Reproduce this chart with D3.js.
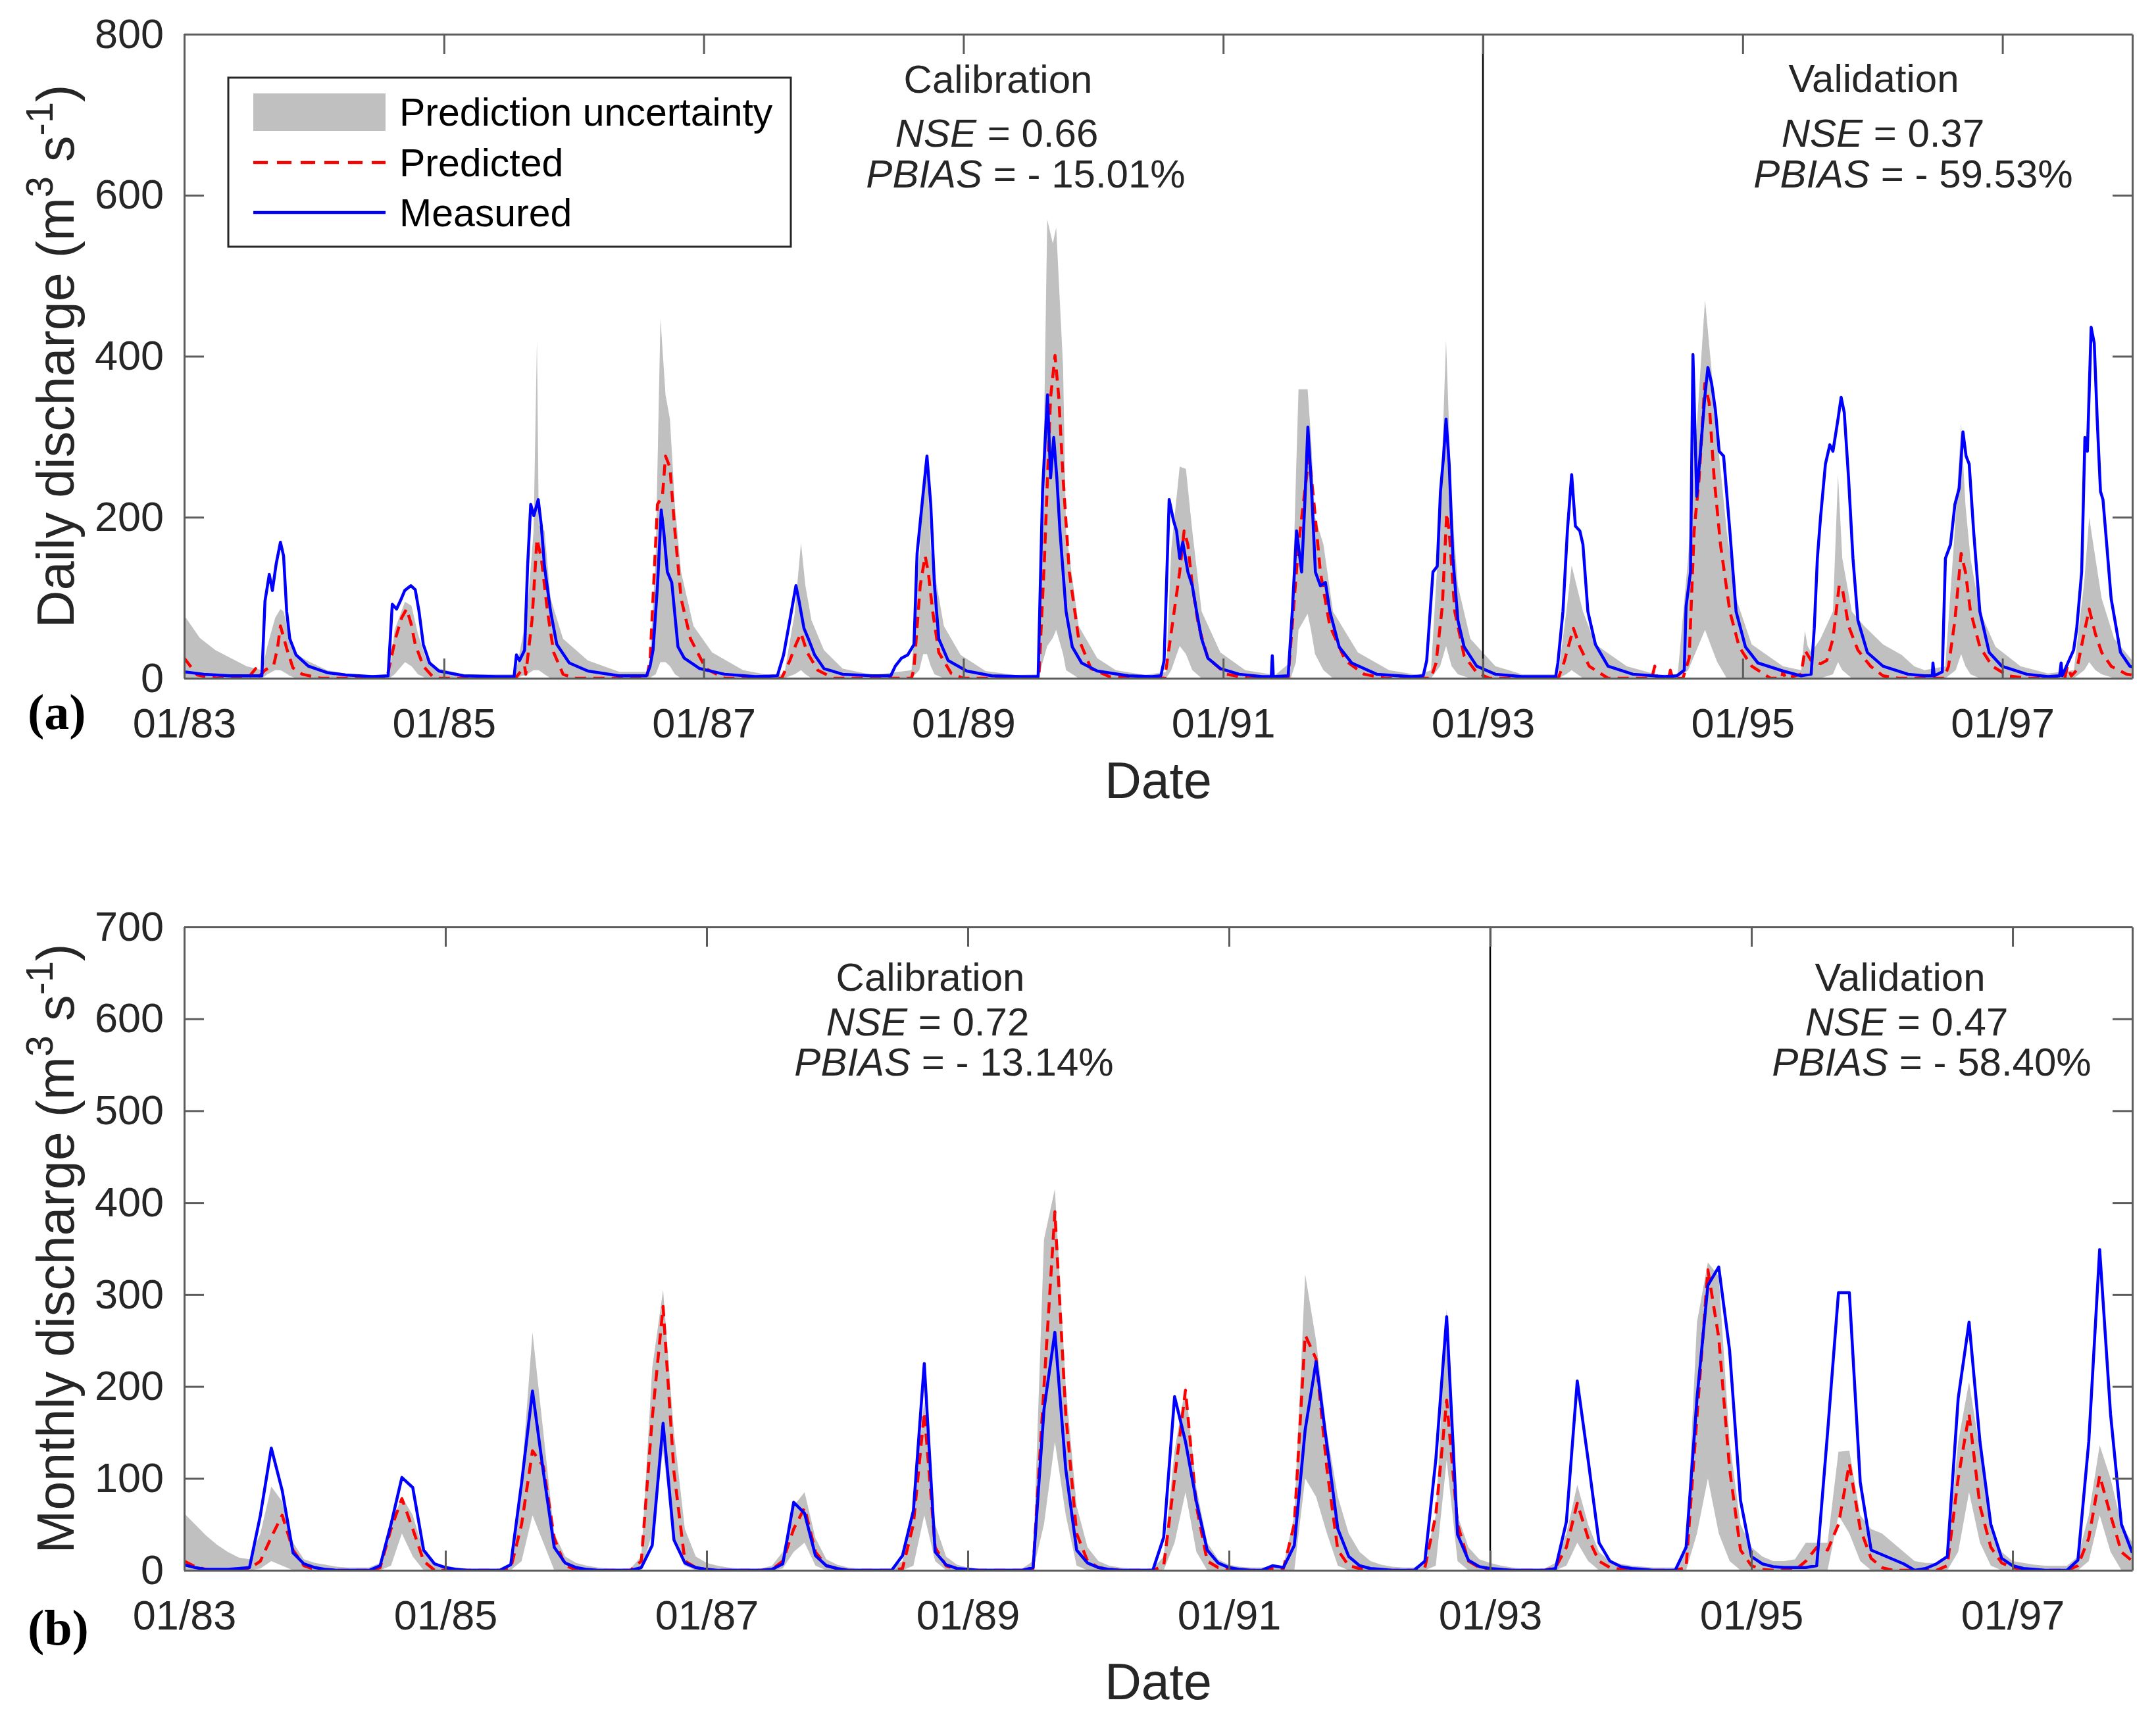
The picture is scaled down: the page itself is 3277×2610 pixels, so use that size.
<!DOCTYPE html>
<html>
<head>
<meta charset="utf-8">
<script src="https://cdn.jsdelivr.net/npm/d3@7"></script>
<style>
  body { margin: 0; background: #fff; }
  svg { display: block; font-family: "Liberation Sans", Arial, sans-serif; }
</style>
</head>
<body>
<div id="chart"></div>
<script>
// ---- Daily panel (a): [decimal year, value] ----
const dailyMeasured = [
  [1983.000, 8], [1983.15, 5], [1983.35, 3], [1983.55, 3], [1983.598, 3], [1983.622, 96], [1983.655, 129], [1983.679, 109],
  [1983.708, 142], [1983.741, 169], [1983.765, 152], [1983.789, 83], [1983.813, 49], [1983.861, 29], [1983.956, 15], [1984.100, 7],
  [1984.243, 4], [1984.45, 2],
  [1984.570, 3], [1984.602, 92], [1984.635, 86], [1984.664, 96], [1984.698, 109], [1984.745, 115], [1984.779, 110], [1984.808, 83],
  [1984.841, 42], [1984.889, 19], [1984.961, 9], [1985.152, 3], [1985.40, 2],
  [1985.540, 2], [1985.558, 29], [1985.582, 22], [1985.621, 35], [1985.644, 139], [1985.668, 216], [1985.692, 202], [1985.726, 222],
  [1985.750, 189], [1985.774, 139], [1985.821, 83], [1985.869, 42], [1985.965, 19], [1986.108, 9], [1986.347, 3],
  [1986.560, 3], [1986.587, 15], [1986.610, 35], [1986.644, 115], [1986.673, 209], [1986.692, 183], [1986.720, 132], [1986.754, 119],
  [1986.802, 39], [1986.850, 25], [1986.969, 12], [1987.160, 5], [1987.40, 2],
  [1987.567, 3], [1987.615, 29], [1987.663, 72], [1987.710, 115], [1987.734, 96], [1987.772, 62], [1987.806, 49], [1987.854, 29],
  [1987.926, 12], [1988.069, 5], [1988.30, 3],
  [1988.440, 3], [1988.475, 15], [1988.523, 25], [1988.571, 29], [1988.619, 42], [1988.643, 155], [1988.681, 216], [1988.719, 276],
  [1988.748, 216], [1988.777, 115], [1988.810, 49], [1988.882, 22], [1989.025, 9], [1989.217, 3], [1989.45, 2],
  [1989.575, 2], [1989.609, 232], [1989.647, 352], [1989.671, 249], [1989.695, 299], [1989.719, 249], [1989.743, 183], [1989.790, 83],
  [1989.838, 39], [1989.910, 19], [1990.030, 9], [1990.269, 3], [1990.45, 2],
  [1990.520, 3], [1990.545, 22], [1990.584, 222], [1990.617, 196], [1990.641, 183], [1990.665, 149], [1990.689, 169], [1990.728, 132],
  [1990.762, 115], [1990.795, 83], [1990.834, 49], [1990.882, 25], [1990.978, 12], [1991.123, 5], [1991.30, 2],
  [1991.370, 2], [1991.378, 28], [1991.386, 2], [1991.50, 3], [1991.532, 83], [1991.565, 183], [1991.604, 132], [1991.628, 216],
  [1991.652, 312], [1991.676, 249], [1991.710, 132], [1991.748, 115], [1991.787, 119], [1991.821, 83], [1991.893, 39], [1991.989, 19],
  [1992.182, 5], [1992.45, 2],
  [1992.540, 3], [1992.567, 22], [1992.615, 132], [1992.648, 139], [1992.673, 232], [1992.697, 276], [1992.716, 322], [1992.740, 266],
  [1992.769, 149], [1992.807, 72], [1992.855, 39], [1992.952, 15], [1993.096, 5], [1993.30, 2],
  [1993.560, 2], [1993.577, 19], [1993.616, 83], [1993.650, 183], [1993.683, 253], [1993.712, 189], [1993.746, 183], [1993.770, 166],
  [1993.808, 83], [1993.866, 42], [1993.963, 15], [1994.155, 5], [1994.40, 2],
  [1994.492, 3], [1994.55, 10], [1994.564, 89], [1994.598, 132], [1994.617, 402], [1994.646, 226], [1994.675, 282], [1994.708, 349],
  [1994.732, 386], [1994.761, 366], [1994.790, 333], [1994.819, 282], [1994.853, 276], [1994.901, 183], [1994.949, 83], [1995.021, 39],
  [1995.117, 19], [1995.310, 9], [1995.45, 3],
  [1995.527, 5], [1995.551, 62], [1995.575, 149], [1995.599, 199], [1995.637, 266], [1995.671, 290], [1995.695, 282], [1995.734, 322],
  [1995.758, 349], [1995.782, 330], [1995.815, 249], [1995.849, 149], [1995.887, 72], [1995.960, 32], [1996.080, 15], [1996.273, 5],
  [1996.40, 3],
  [1996.460, 3], [1996.465, 19], [1996.475, 3], [1996.537, 8], [1996.561, 149], [1996.600, 166], [1996.634, 216], [1996.667, 236],
  [1996.696, 306], [1996.720, 276], [1996.744, 266], [1996.778, 183], [1996.826, 83], [1996.898, 32], [1996.995, 15], [1997.187, 5],
  [1997.35, 2],
  [1997.440, 3], [1997.452, 19], [1997.460, 3], [1997.548, 35], [1997.572, 62], [1997.610, 132], [1997.635, 299], [1997.654, 282],
  [1997.683, 436], [1997.707, 416], [1997.731, 316], [1997.755, 232], [1997.774, 222], [1997.803, 166], [1997.837, 99], [1997.909, 32],
  [1997.981, 15], [1998.0, 14]
];

const dailyPredicted = [
  [1983.000, 25], [1983.10, 4], [1983.25, 0], [1983.50, 2], [1983.55, 12], [1983.58, 3], [1983.622, 10], [1983.69, 17],
  [1983.718, 37], [1983.741, 65], [1983.789, 37], [1983.837, 13], [1983.909, 5], [1984.05, 0],
  [1984.56, 0], [1984.626, 49], [1984.674, 75], [1984.712, 86], [1984.745, 69], [1984.779, 42], [1984.841, 15], [1984.913, 2], [1984.96, 0],
  [1985.55, 0], [1985.621, 15], [1985.63, 5], [1985.678, 72], [1985.716, 173], [1985.750, 149], [1985.797, 83], [1985.845, 32],
  [1985.917, 5], [1986.0, 0],
  [1986.56, 0], [1986.587, 22], [1986.644, 216], [1986.682, 226], [1986.706, 276], [1986.740, 262], [1986.778, 183], [1986.826, 99],
  [1986.898, 49], [1987.017, 12], [1987.160, 0],
  [1987.60, 0], [1987.663, 22], [1987.710, 42], [1987.749, 56], [1987.797, 32], [1987.878, 10], [1988.0, 0],
  [1988.60, 0], [1988.619, 12], [1988.667, 115], [1988.705, 152], [1988.729, 132], [1988.763, 83], [1988.810, 32], [1988.906, 6], [1989.0, 0],
  [1989.46, 0], [1989.480, 6], [1989.50, 0], [1989.58, 0], [1989.623, 146], [1989.671, 349], [1989.705, 401], [1989.734, 349],
  [1989.767, 249], [1989.815, 132], [1989.887, 49], [1989.982, 12], [1990.125, 2], [1990.3, 0],
  [1990.55, 0], [1990.593, 49], [1990.665, 132], [1990.699, 183], [1990.728, 166], [1990.762, 115], [1990.810, 65], [1990.882, 25],
  [1991.026, 5], [1991.2, 0],
  [1991.50, 0], [1991.580, 166], [1991.628, 232], [1991.662, 276], [1991.700, 216], [1991.748, 132], [1991.821, 65], [1991.941, 22],
  [1992.085, 5], [1992.25, 0],
  [1992.60, 0], [1992.639, 19], [1992.687, 89], [1992.721, 205], [1992.740, 183], [1992.783, 83], [1992.855, 28], [1992.952, 7], [1993.05, 0],
  [1993.58, 0], [1993.625, 20], [1993.650, 35], [1993.697, 62], [1993.746, 39], [1993.818, 15], [1993.963, 0],
  [1994.30, 0], [1994.323, 15], [1994.34, 0], [1994.43, 0], [1994.443, 10], [1994.46, 0], [1994.54, 0], [1994.588, 25], [1994.626, 183],
  [1994.665, 249], [1994.708, 366], [1994.742, 342], [1994.780, 249], [1994.829, 166], [1994.901, 83], [1994.973, 39], [1995.069, 15],
  [1995.214, 0],
  [1995.30, 0], [1995.310, 9], [1995.33, 0], [1995.45, 5], [1995.479, 35], [1995.527, 22], [1995.599, 18], [1995.647, 22], [1995.695, 49],
  [1995.743, 115], [1995.767, 112], [1995.815, 65], [1995.887, 35], [1995.984, 15], [1996.080, 3], [1996.2, 0],
  [1996.55, 0], [1996.585, 15], [1996.634, 72], [1996.682, 155], [1996.715, 132], [1996.754, 83], [1996.826, 39], [1996.922, 15],
  [1997.043, 3], [1997.2, 0],
  [1997.48, 0], [1997.500, 15], [1997.53, 3], [1997.572, 10], [1997.620, 49], [1997.668, 86], [1997.716, 55], [1997.764, 32],
  [1997.837, 15], [1997.957, 5], [1998.0, 4]
];

// [decimal year, lower bound, upper bound]
const dailyBand = [
  [1983.000, 0, 78], [1983.12, 0, 50], [1983.24, 0, 35], [1983.36, 0, 25], [1983.48, 0, 15], [1983.60, 0, 10], [1983.64, 5, 40],
  [1983.70, 10, 75], [1983.741, 10, 86], [1983.765, 8, 83], [1983.813, 3, 49], [1983.861, 0, 30], [1983.956, 0, 21], [1984.10, 0, 10],
  [1984.3, 0, 4],
  [1984.58, 0, 4], [1984.62, 5, 60], [1984.70, 20, 95], [1984.75, 15, 90], [1984.80, 5, 55], [1984.86, 0, 25], [1984.96, 0, 12], [1985.15, 0, 5],
  [1985.55, 0, 5], [1985.64, 5, 80], [1985.69, 10, 183], [1985.716, 10, 420], [1985.73, 10, 190], [1985.774, 5, 183], [1985.821, 0, 99],
  [1985.917, 0, 49], [1986.108, 0, 22], [1986.35, 0, 8],
  [1986.58, 0, 8], [1986.63, 5, 150], [1986.667, 20, 447], [1986.706, 20, 352], [1986.740, 15, 322], [1986.778, 5, 216], [1986.826, 0, 132],
  [1986.921, 0, 65], [1987.065, 0, 32], [1987.304, 0, 10], [1987.5, 0, 4],
  [1987.62, 0, 5], [1987.70, 5, 80], [1987.749, 10, 168], [1987.783, 5, 115], [1987.830, 0, 72], [1987.926, 0, 35], [1988.069, 0, 12],
  [1988.3, 0, 4],
  [1988.60, 0, 10], [1988.66, 10, 150], [1988.69, 30, 235], [1988.719, 30, 270], [1988.748, 15, 160], [1988.777, 5, 132], [1988.849, 0, 65],
  [1988.978, 0, 29], [1989.170, 0, 9], [1989.4, 0, 4],
  [1989.58, 0, 5], [1989.61, 20, 200], [1989.645, 40, 570], [1989.688, 50, 540], [1989.714, 60, 560], [1989.767, 30, 387], [1989.790, 10, 183],
  [1989.887, 0, 65], [1990.030, 0, 25], [1990.173, 0, 10], [1990.4, 0, 4],
  [1990.56, 0, 8], [1990.60, 10, 160], [1990.665, 40, 263], [1990.713, 30, 260], [1990.762, 10, 183], [1990.834, 0, 83], [1990.978, 0, 32],
  [1991.17, 0, 10], [1991.4, 0, 4],
  [1991.52, 0, 20], [1991.56, 20, 250], [1991.58, 60, 359], [1991.65, 80, 359], [1991.676, 60, 300], [1991.707, 30, 200], [1991.772, 10, 166],
  [1991.845, 0, 83], [1992.037, 0, 32], [1992.278, 0, 10], [1992.5, 0, 4],
  [1992.60, 0, 10], [1992.67, 15, 200], [1992.716, 40, 420], [1992.759, 15, 216], [1992.807, 5, 115], [1992.903, 0, 49], [1993.096, 0, 15],
  [1993.3, 0, 5],
  [1993.58, 0, 5], [1993.64, 5, 80], [1993.683, 10, 140], [1993.770, 0, 83], [1993.866, 0, 42], [1994.107, 0, 15], [1994.35, 0, 4],
  [1994.50, 0, 5], [1994.58, 10, 150], [1994.71, 60, 470], [1994.756, 40, 390], [1994.804, 20, 300], [1994.877, 0, 183], [1994.949, 0, 99],
  [1995.069, 0, 42], [1995.310, 0, 15], [1995.45, 0, 10],
  [1995.479, 0, 59], [1995.50, 0, 40], [1995.527, 0, 32], [1995.599, 0, 49], [1995.695, 5, 83], [1995.734, 20, 253], [1995.767, 10, 149],
  [1995.84, 0, 83], [1995.935, 0, 65], [1996.080, 0, 42], [1996.224, 0, 29], [1996.32, 0, 15], [1996.40, 0, 10],
  [1996.56, 0, 15], [1996.64, 10, 200], [1996.682, 30, 316], [1996.715, 15, 216], [1996.754, 5, 149], [1996.826, 0, 83], [1996.947, 0, 39],
  [1997.139, 0, 15], [1997.35, 0, 6],
  [1997.55, 0, 10], [1997.63, 10, 120], [1997.668, 20, 200], [1997.716, 10, 149], [1997.764, 5, 99], [1997.861, 0, 49], [1998.0, 0, 22]
];

// ---- Monthly panel (b): one value per month, Jan 1983 .. Dec 1997 ----
const monthlyMeasured = [
  6, 3, 1, 1, 1, 2, 3, 60, 133, 87, 19, 7,        // 1983
  3, 1, 0, 0, 0, 0, 5, 50, 101, 90, 22, 7,        // 1984
  3, 1, 0, 0, 0, 0, 6, 95, 195, 107, 25, 8,       // 1985
  3, 1, 0, 0, 0, 0, 3, 27, 160, 33, 8, 3,         // 1986
  1, 0, 0, 0, 0, 0, 1, 7, 74, 62, 16, 5,          // 1987
  2, 0, 0, 0, 0, 0, 16, 65, 225, 20, 6, 2,        // 1988
  1, 0, 0, 0, 0, 0, 3, 175, 259, 110, 22, 8,      // 1989
  3, 1, 0, 0, 0, 0, 36, 189, 140, 75, 22, 8,      // 1990
  3, 1, 0, 0, 5, 3, 27, 153, 227, 136, 45, 15,    // 1991
  5, 2, 1, 0, 0, 0, 10, 120, 276, 39, 11, 4,      // 1992
  2, 1, 0, 0, 0, 0, 2, 53, 206, 120, 30, 10,      // 1993
  4, 2, 1, 0, 0, 0, 25, 187, 310, 330, 239, 76,   // 1994
  15, 7, 4, 3, 3, 3, 5, 150, 302, 302, 96, 22,    // 1995
  17, 12, 7, 0, 2, 7, 15, 187, 270, 140, 50, 13,  // 1996
  5, 2, 1, 0, 0, 0, 11, 140, 349, 170, 50, 19     // 1997
];

const monthlyPredicted = [
  10, 4, 1, 0, 0, 0, 2, 10, 36, 60, 22, 5,
  1, 0, 0, 0, 0, 0, 3, 45, 78, 45, 10, 0,
  0, 0, 0, 0, 0, 0, 2, 50, 130, 113, 35, 5,
  1, 0, 0, 0, 0, 0, 10, 165, 287, 107, 10, 3,
  1, 0, 0, 0, 0, 0, 1, 10, 45, 68, 20, 5,
  2, 0, 0, 0, 0, 0, 2, 50, 172, 25, 5, 1,
  0, 0, 0, 0, 0, 0, 2, 200, 390, 170, 40, 10,
  3, 1, 0, 0, 0, 0, 5, 100, 196, 70, 10, 3,
  1, 0, 0, 0, 2, 2, 50, 256, 230, 110, 22, 5,
  2, 0, 0, 0, 0, 0, 3, 60, 185, 50, 10, 3,
  1, 0, 0, 0, 0, 0, 3, 25, 73, 35, 10, 3,
  1, 0, 0, 0, 0, 0, 3, 167, 327, 253, 110, 22,
  5, 1, 0, 0, 0, 10, 25, 22, 50, 116, 45, 13,
  3, 0, 0, 0, 0, 0, 5, 100, 170, 70, 25, 8,
  3, 1, 0, 0, 0, 0, 5, 35, 103, 60, 20, 10
];

const monthlyUpper = [
  62, 50, 38, 28, 20, 14, 12, 40, 91, 75, 30, 12,
  8, 6, 4, 3, 3, 3, 8, 50, 80, 60, 20, 8,
  5, 3, 2, 2, 2, 2, 8, 100, 259, 150, 40, 15,
  8, 5, 3, 2, 2, 2, 15, 220, 305, 150, 45, 15,
  8, 5, 3, 2, 2, 2, 5, 20, 70, 85, 35, 12,
  6, 3, 2, 2, 2, 2, 10, 70, 185, 50, 15, 6,
  3, 2, 2, 2, 2, 2, 10, 360, 415, 200, 70, 25,
  10, 5, 3, 2, 2, 2, 15, 130, 200, 90, 30, 12,
  6, 4, 3, 3, 5, 5, 60, 322, 250, 150, 80, 40,
  20, 10, 6, 4, 3, 3, 10, 60, 285, 60, 25, 12,
  8, 5, 3, 2, 2, 2, 8, 40, 93, 50, 20, 10,
  7, 5, 4, 3, 3, 3, 20, 270, 335, 320, 140, 50,
  25, 15, 10, 10, 12, 30, 30, 30, 129, 130, 60, 45,
  40, 30, 20, 10, 8, 8, 15, 140, 205, 130, 50, 20,
  10, 8, 6, 5, 5, 5, 15, 60, 136, 100, 50, 30
];

const monthlyLower = [
  0, 0, 0, 0, 0, 0, 0, 2, 10, 5, 0, 0,
  0, 0, 0, 0, 0, 0, 0, 5, 40, 15, 0, 0,
  0, 0, 0, 0, 0, 0, 0, 10, 60, 30, 0, 0,
  0, 0, 0, 0, 0, 0, 0, 40, 130, 30, 5, 0,
  0, 0, 0, 0, 0, 0, 0, 2, 20, 30, 5, 0,
  0, 0, 0, 0, 0, 0, 0, 5, 60, 10, 0, 0,
  0, 0, 0, 0, 0, 0, 0, 50, 140, 60, 5, 0,
  0, 0, 0, 0, 0, 0, 0, 30, 85, 20, 0, 0,
  0, 0, 0, 0, 0, 0, 0, 100, 80, 40, 5, 0,
  0, 0, 0, 0, 0, 0, 0, 5, 120, 10, 0, 0,
  0, 0, 0, 0, 0, 0, 0, 5, 30, 10, 0, 0,
  0, 0, 0, 0, 0, 0, 0, 40, 100, 40, 10, 0,
  0, 0, 0, 0, 0, 0, 0, 0, 60, 40, 10, 0,
  0, 0, 0, 0, 0, 0, 0, 20, 85, 30, 5, 0,
  0, 0, 0, 0, 0, 0, 0, 10, 60, 20, 0, 0
];

// ---- ticks, labels, statistics ----
const yearTicks = [1983, 1985, 1987, 1989, 1991, 1993, 1995, 1997];
const monthTicks = [0, 24, 48, 72, 96, 120, 144, 168];
const dateTickLabels = ["01/83", "01/85", "01/87", "01/89", "01/91", "01/93", "01/95", "01/97"];
const dailyYTicks = [0, 200, 400, 600, 800];
const monthlyYTicks = [0, 100, 200, 300, 400, 500, 600, 700];
const legendLabels = ["Prediction uncertainty", "Predicted", "Measured"];
const dailyStats = { cal: ["0.66", "- 15.01%"], val: ["0.37", "- 59.53%"] };
const monthlyStats = { cal: ["0.72", "- 13.14%"], val: ["0.47", "- 58.40%"] };

const W = 3277, H = 2610;
const textColor = "#262626", axisColor = "#5c5c5c";
const bandColor = "#c0c0c0", predColor = "#ff0000", measColor = "#0000ff";

const svg = d3.select("#chart").append("svg")
  .attr("width", W).attr("height", H)
  .attr("viewBox", `0 0 ${W} ${H}`);
svg.append("rect").attr("width", W).attr("height", H).attr("fill", "#fff");

function drawPanel(opt) {
  const m = opt.box;
  const x = d3.scaleLinear().domain(opt.xDomain).range([m.left, m.right]);
  const y = d3.scaleLinear().domain([0, opt.yMax]).range([m.bottom, m.top]);
  const g = svg.append("g");

  const clipId = "clip-" + opt.id;
  g.append("clipPath").attr("id", clipId).append("rect")
    .attr("x", m.left).attr("y", m.top)
    .attr("width", m.right - m.left).attr("height", m.bottom - m.top);
  const plot = g.append("g").attr("clip-path", `url(#${clipId})`);

  // Uncertainty band
  plot.append("path").datum(opt.band)
    .attr("fill", bandColor).attr("stroke", "none")
    .attr("d", d3.area().x(d => x(d[0])).y0(d => y(d[1])).y1(d => y(d[2])));

  // Predicted (dashed red) and measured (blue)
  const line = d3.line().x(d => x(d[0])).y(d => y(d[1]));
  plot.append("path").datum(opt.predicted)
    .attr("fill", "none").attr("stroke", predColor).attr("stroke-width", 4.5)
    .attr("stroke-dasharray", "17,11").attr("stroke-linejoin", "round")
    .attr("d", line);
  plot.append("path").datum(opt.measured)
    .attr("fill", "none").attr("stroke", measColor).attr("stroke-width", 4.5)
    .attr("stroke-linejoin", "round")
    .attr("d", line);

  // Calibration / validation split
  g.append("line")
    .attr("x1", x(opt.split)).attr("x2", x(opt.split))
    .attr("y1", m.top).attr("y2", m.bottom)
    .attr("stroke", "#000").attr("stroke-width", 2.5);

  // Axes, ticks pointing inwards on all four sides
  const tickLen = 30;
  const axisB = g.append("g").attr("transform", `translate(0,${m.bottom})`)
    .call(d3.axisBottom(x).tickValues(opt.xTicks).tickFormat((d, i) => dateTickLabels[i])
      .tickSizeInner(-tickLen).tickSizeOuter(0).tickPadding(45));
  const axisT = g.append("g").attr("transform", `translate(0,${m.top})`)
    .call(d3.axisTop(x).tickValues(opt.xTicks).tickFormat("")
      .tickSizeInner(-tickLen).tickSizeOuter(0));
  const axisL = g.append("g").attr("transform", `translate(${m.left},0)`)
    .call(d3.axisLeft(y).tickValues(opt.yTicks)
      .tickSizeInner(-tickLen).tickSizeOuter(0).tickPadding(31));
  const axisR = g.append("g").attr("transform", `translate(${m.right},0)`)
    .call(d3.axisRight(y).tickValues(opt.yTicks).tickFormat("")
      .tickSizeInner(-tickLen).tickSizeOuter(0));
  [axisB, axisT, axisL, axisR].forEach(a => {
    a.selectAll("path.domain").attr("stroke", axisColor).attr("stroke-width", 3);
    a.selectAll(".tick line").attr("stroke", axisColor).attr("stroke-width", 3);
    a.selectAll(".tick text").attr("fill", textColor)
      .style("font-size", "63px").style("font-family", '"Liberation Sans", Arial, sans-serif');
  });

  // Axis titles
  g.append("text")
    .attr("x", (m.left + m.right) / 2).attr("y", opt.dateBaseline)
    .attr("text-anchor", "middle").attr("fill", textColor)
    .style("font-size", "77px").text("Date");

  const yt = g.append("text")
    .attr("transform", `translate(112,${(m.top + m.bottom) / 2}) rotate(-90)`)
    .attr("text-anchor", "middle").attr("fill", textColor)
    .style("font-size", "79px");
  yt.append("tspan").text(opt.yTitle + " (m");
  yt.append("tspan").attr("baseline-shift", "super").style("font-size", "58px").text("3");
  yt.append("tspan").text(" s");
  yt.append("tspan").attr("baseline-shift", "super").style("font-size", "58px").text("-1");
  yt.append("tspan").text(")");

  // Panel letter
  g.append("text")
    .attr("x", 42).attr("y", opt.letterBaseline)
    .attr("fill", "#000")
    .style("font-family", '"Liberation Serif", "Times New Roman", serif')
    .style("font-weight", "bold").style("font-size", "76px")
    .text(opt.letter);

  // Statistics annotations
  opt.notes.forEach(n => {
    g.append("text").attr("x", n.cx[0]).attr("y", n.base[0])
      .attr("text-anchor", "middle").attr("fill", textColor)
      .style("font-size", "60px").text(n.title);
    const t1 = g.append("text").attr("x", n.cx[1]).attr("y", n.base[1])
      .attr("text-anchor", "middle").attr("fill", textColor).style("font-size", "60px");
    t1.append("tspan").style("font-style", "italic").text("NSE");
    t1.append("tspan").text(" = " + n.stats[0]);
    const t2 = g.append("text").attr("x", n.cx[2]).attr("y", n.base[2])
      .attr("text-anchor", "middle").attr("fill", textColor).style("font-size", "60px");
    t2.append("tspan").style("font-style", "italic").text("PBIAS");
    t2.append("tspan").text(" = " + n.stats[1]);
  });

  return { x, y, g };
}

// Panel (a): daily
const panelA = drawPanel({
  id: "a",
  box: { left: 280, right: 3241, top: 52, bottom: 1031 },
  xDomain: [1983, 1998], yMax: 800,
  xTicks: yearTicks, yTicks: dailyYTicks,
  band: dailyBand, predicted: dailyPredicted, measured: dailyMeasured,
  split: 1993,
  yTitle: "Daily discharge",
  dateBaseline: 1213, letter: "(a)", letterBaseline: 1108,
  notes: [
    { title: "Calibration", stats: dailyStats.cal, cx: [1517, 1515, 1559], base: [141, 223, 285] },
    { title: "Validation", stats: dailyStats.val, cx: [2848, 2862, 2908], base: [140, 223, 285] }
  ]
});

// Legend (panel a only)
const lg = panelA.g.append("g");
lg.append("rect").attr("x", 347).attr("y", 118).attr("width", 855).attr("height", 257)
  .attr("fill", "#fff").attr("stroke", "#262626").attr("stroke-width", 3);
lg.append("rect").attr("x", 385).attr("y", 142).attr("width", 201).attr("height", 57).attr("fill", bandColor);
lg.append("line").attr("x1", 385).attr("x2", 586).attr("y1", 247).attr("y2", 247)
  .attr("stroke", predColor).attr("stroke-width", 4.5).attr("stroke-dasharray", "22,14");
lg.append("line").attr("x1", 385).attr("x2", 586).attr("y1", 323).attr("y2", 323)
  .attr("stroke", measColor).attr("stroke-width", 4.5);
[170, 247, 323].forEach((cy, i) => {
  lg.append("text").attr("x", 607).attr("y", cy).attr("dy", "0.35em")
    .attr("fill", "#000").style("font-size", "59px").text(legendLabels[i]);
});

// Panel (b): monthly
const monthIdx = d3.range(monthlyMeasured.length);
drawPanel({
  id: "b",
  box: { left: 280, right: 3241, top: 1409, bottom: 2387 },
  xDomain: [0, monthlyMeasured.length - 1], yMax: 700,
  xTicks: monthTicks, yTicks: monthlyYTicks,
  band: monthIdx.map(i => [i, monthlyLower[i], monthlyUpper[i]]),
  predicted: monthIdx.map(i => [i, monthlyPredicted[i]]),
  measured: monthIdx.map(i => [i, monthlyMeasured[i]]),
  split: 120,
  yTitle: "Monthly discharge",
  dateBaseline: 2583, letter: "(b)", letterBaseline: 2500,
  notes: [
    { title: "Calibration", stats: monthlyStats.cal, cx: [1414, 1410, 1450], base: [1506, 1574, 1635] },
    { title: "Validation", stats: monthlyStats.val, cx: [2888, 2898, 2936], base: [1506, 1574, 1635] }
  ]
});
</script>
</body>
</html>
